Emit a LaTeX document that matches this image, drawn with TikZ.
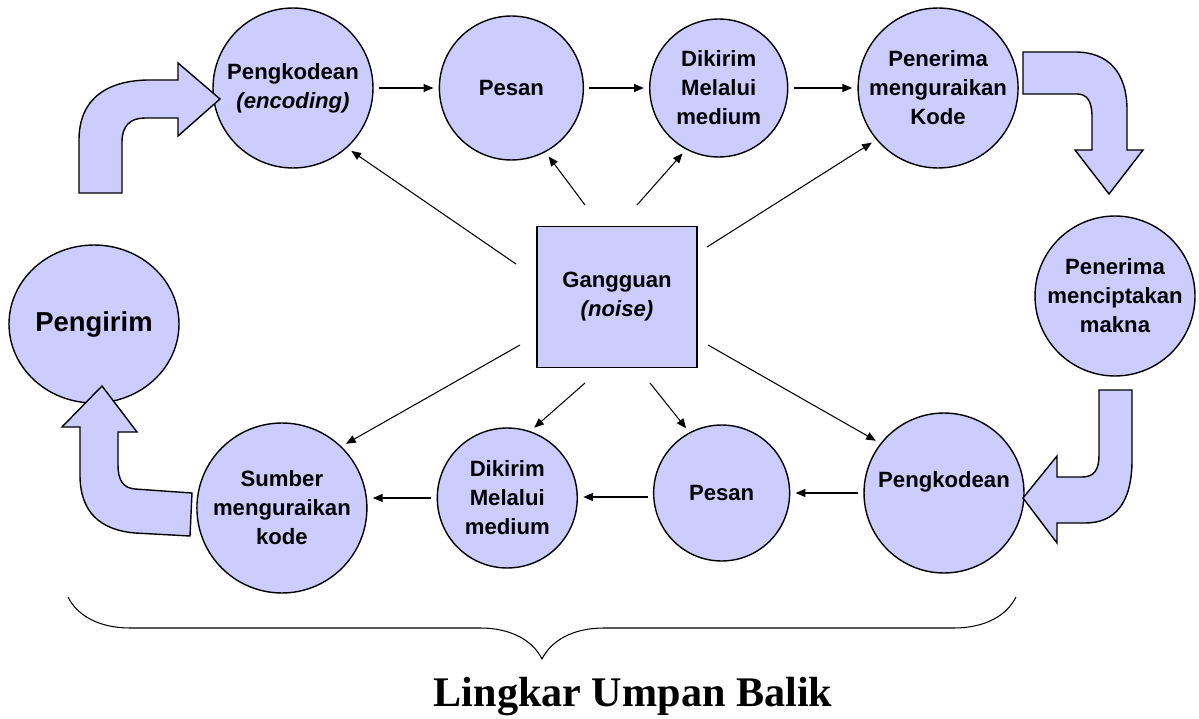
\documentclass[tikz,border=0pt]{standalone}
\usepackage{fontspec}
\setmainfont{Liberation Sans}
\newfontfamily\titlefont{Liberation Serif}
\usepackage{xcolor}
\usepackage{tikz}
\usetikzlibrary{positioning,arrows.meta,shapes.geometric,decorations.pathreplacing}
\definecolor{lav}{RGB}{204,204,255}

\begin{document}
\begin{tikzpicture}[
  x=0.02cm, y=-0.02cm,
  >={Triangle[length=5.5pt,width=4.5pt]},
  bigc/.style={circle, draw, fill=lav, line width=0.8pt, minimum size=3.2cm, inner sep=0pt, align=center, font=\bfseries\fontsize{12.6}{16.5}\selectfont},
  smallc/.style={bigc, minimum size=2.8cm},
  sender/.style={ellipse, draw, fill=lav, line width=0.8pt, minimum width=3.4cm, minimum height=3.16cm, inner sep=0pt, font=\bfseries\fontsize{15.6}{19}\selectfont},
  noisebox/.style={rectangle, draw, fill=lav, line width=0.8pt, minimum width=3.2cm, minimum height=2.82cm, align=center, font=\bfseries\fontsize{12.6}{16.5}\selectfont},
  arr/.style={->, line width=0.6pt, shorten >=3pt},
  bent/.style={draw, fill=lav, line width=0.8pt, line join=miter},
]
\useasboundingbox (0,0) rectangle (1199,719);

% Top row
\node[bigc] (enc) at (293,88) {Pengkodean\\\textit{(encoding)}};
\node[smallc, minimum size=2.88cm, right=1.3cm of enc] (msg1) {Pesan};
\node[smallc, minimum size=2.76cm, right=1.3cm of msg1] (med1) {Dikirim\\Melalui\\medium};
\node[bigc, right=1.38cm of med1] (dec1) {Penerima\\menguraikan\\Kode};

% Right and left
\node[bigc] (make) at (1115,296) {Penerima\\menciptakan\\makna};
\node[sender] (send) at (94,324) {Pengirim};

% Noise
\node[noisebox] (noise) at (617,297) {Gangguan\\\textit{(noise)}};

% Bottom row
\node[bigc, text depth=0.55cm] (enc2) at (944,493) {Pengkodean};
\node[smallc, minimum size=2.72cm, left=1.46cm of enc2] (msg2) {Pesan};
\node[smallc, left=1.5cm of msg2, yshift=-0.1cm] (med2) {Dikirim\\Melalui\\medium};
\node[bigc, minimum size=3.4cm, left=1.38cm of med2, yshift=-0.2cm] (src) {Sumber\\menguraikan\\kode};

% Row arrows
\draw[arr, shorten <=3pt] (enc) -- (msg1);
\draw[arr, shorten <=3pt] (msg1) -- (med1);
\draw[arr, shorten <=3pt] (med1) -- (dec1);
\draw[arr, shorten <=3pt] (enc2) -- (msg2);
\draw[arr, shorten <=3pt] ([yshift=-0.08cm]msg2.west) -- ([yshift=-0.08cm]msg2.west -| med2.east);
\draw[arr, shorten <=3pt] (med2.west) -- (med2.west -| src.east);

% Noise arrows
\draw[arr] ([shift={(-101,-33)}]noise.center) -- (enc.-48);
\draw[arr] ([shift={(-32,-92)}]noise.center) -- (msg1.-62);
\draw[arr] ([shift={(20,-92)}]noise.center) -- (med1.-118);
\draw[arr] ([shift={(90,-50)}]noise.center) -- (dec1.-140);
\draw[arr] ([shift={(-97,48)}]noise.center) -- (src.46);
\draw[arr] ([shift={(-32,86)}]noise.center) -- (med2.71);
\draw[arr] ([shift={(33,86)}]noise.center) -- (msg2.118);
\draw[arr] ([shift={(91,48)}]noise.center) -- (enc2.142);

% Bent block arrows
\draw[bent] (79,193) -- (79,140) .. controls (79,98) and (108,80) .. (150,80) -- (178,80) -- (178,63) -- (220,99) -- (178,136) -- (178,118) -- (145,118) .. controls (130,118) and (122,126) .. (122,142) -- (122,193) -- cycle;
\draw[bent] (1023,52) -- (1075,52) .. controls (1108,52) and (1127,72) .. (1127,110) -- (1127,150) -- (1143,150) -- (1109,194) -- (1075,150) -- (1092,150) -- (1092,117) .. controls (1092,101) and (1087,94) .. (1077,94) -- (1023,94) -- cycle;
\draw[bent] (1099,390) -- (1132,390) -- (1132,460) .. controls (1132,503) and (1115,523) .. (1085,523) -- (1057,523) -- (1057,543) -- (1023,498) -- (1057,456) -- (1057,477) -- (1082,477) .. controls (1094,477) and (1099,470) .. (1099,455) -- cycle;
\draw[bent] (192,493) -- (190,536) -- (135,533) .. controls (100,530) and (80,512) .. (80,475) -- (80,427) -- (62,427) -- (102,386) -- (137,432) -- (118,432) -- (118,465) .. controls (118,480) and (123,488) .. (135,489) -- cycle;

% Feedback brace
\coordinate (brR) at (1016,597);
\coordinate (brL) at (68,597);
\draw[line width=0.6pt, decorate, decoration={brace, amplitude=1.24cm}] (brR) -- (brL);
\node[font=\titlefont\bfseries\fontsize{24}{28}\selectfont] (title) at (633,697) {Lingkar Umpan Balik};

\end{tikzpicture}
\end{document}
